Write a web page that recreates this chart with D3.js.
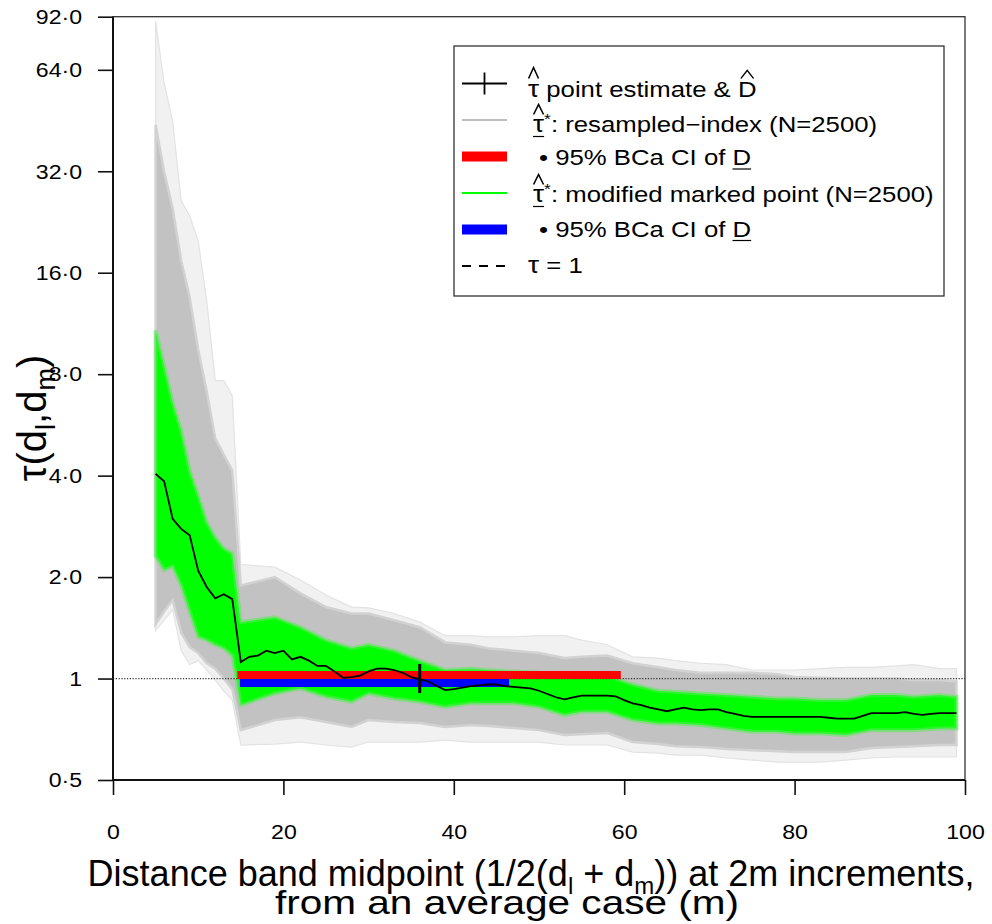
<!DOCTYPE html>
<html><head><meta charset="utf-8">
<script src="https://cdn.jsdelivr.net/npm/d3@7"></script>
<style>
html,body{margin:0;padding:0;background:#fff;}
svg{display:block;font-family:"Liberation Sans",Arial,Helvetica,sans-serif;}
</style></head><body>
<svg id="chart" width="992" height="924"></svg>
<script>
// ---------------- DATA ----------------
const xTicks = [0, 20, 40, 60, 80, 100];
const xTickLabels = ["0", "20", "40", "60", "80", "100"];
const yTicks = [0.5, 1, 2, 4, 8, 16, 32, 64, 92];
const yTickLabels = ["0·5", "1", "2·0", "4·0", "8·0", "16·0", "32·0", "64·0", "92·0"];

// point-estimate curve tau-hat (distance band midpoints, m)
const estX = [5,6,7,8,9,10,11,12,13,14,15,16,17,18,19,20,21,22,23,24,25,26,27,28,29,30,31,32,33,34,35,36,37,38,39,40,41,42,43,44,45,46,47,48,49,50,51,52,53,54,55,56,57,58,59,60,61,62,63,64,65,66,67,68,69,70,71,72,73,74,75,76,77,78,79,80,81,82,83,84,85,86,87,88,89,90,91,92,93,94,95,96,97,98,99];
const estTau = [4.05,3.85,2.98,2.78,2.66,2.09,1.87,1.73,1.78,1.72,1.12,1.16,1.17,1.21,1.19,1.21,1.14,1.16,1.13,1.09,1.09,1.05,1.005,1.01,1.02,1.05,1.07,1.07,1.06,1.04,1.01,0.996,0.98,0.95,0.924,0.93,0.94,0.95,0.955,0.96,0.96,0.95,0.945,0.94,0.935,0.92,0.90,0.88,0.867,0.88,0.89,0.89,0.89,0.89,0.885,0.863,0.844,0.834,0.82,0.81,0.80,0.81,0.82,0.81,0.806,0.81,0.81,0.795,0.785,0.775,0.77,0.77,0.77,0.77,0.77,0.77,0.77,0.77,0.77,0.765,0.76,0.76,0.76,0.775,0.79,0.79,0.79,0.79,0.795,0.785,0.78,0.785,0.79,0.79,0.79];

// envelopes of the bootstrap curves
const bandX = [5,6,7,8,9,10,11,12,13,14,15,19,22,25,28,30,33,36,39,42,44,47,50,53,55,58,61,64,66,69,72,75,78,80,83,86,89,92,94,97,99];
const greyFaintHi = [89.3,58.5,45.1,26.2,23.6,19.9,13.2,7.66,7.66,6.91,2.18,2.14,1.96,1.77,1.63,1.62,1.56,1.47,1.34,1.34,1.33,1.33,1.34,1.34,1.30,1.26,1.16,1.15,1.13,1.11,1.10,1.06,1.06,1.06,1.07,1.08,1.08,1.09,1.10,1.07,1.07];
const greyFaintLo = [1.39,1.49,1.60,1.21,1.10,1.13,1.06,0.99,0.92,0.863,0.635,0.639,0.648,0.635,0.626,0.648,0.648,0.648,0.657,0.648,0.648,0.648,0.648,0.635,0.635,0.635,0.605,0.601,0.593,0.593,0.581,0.573,0.565,0.565,0.565,0.573,0.581,0.585,0.585,0.585,0.585];
const greyHi = [43.9,31.9,24.8,17.4,13.5,9.46,7.11,5.16,4.62,4.14,1.89,2.00,1.79,1.63,1.56,1.56,1.49,1.42,1.28,1.26,1.23,1.21,1.19,1.15,1.16,1.17,1.11,1.08,1.06,1.04,1.04,1.04,1.03,1.01,1.005,1.00,1.00,1.00,0.99,0.99,0.98];
const greyLo = [1.45,1.58,1.71,1.37,1.24,1.19,1.11,1.07,1.00,0.93,0.703,0.753,0.768,0.743,0.718,0.753,0.743,0.738,0.718,0.728,0.723,0.713,0.703,0.680,0.684,0.689,0.648,0.639,0.630,0.626,0.618,0.613,0.609,0.605,0.605,0.605,0.622,0.626,0.630,0.635,0.635];
const greenHi = [10.8,8.49,6.59,5.45,4.14,3.49,2.91,2.62,2.43,2.35,1.47,1.52,1.42,1.30,1.23,1.26,1.21,1.13,1.06,1.07,1.06,1.05,1.04,1.01,1.02,1.02,0.96,0.92,0.913,0.903,0.893,0.883,0.873,0.873,0.863,0.863,0.893,0.893,0.883,0.893,0.883];
const greenLo = [2.31,2.10,2.15,1.89,1.58,1.33,1.30,1.26,1.23,1.17,0.834,0.903,0.935,0.883,0.853,0.903,0.873,0.853,0.824,0.844,0.844,0.844,0.824,0.779,0.797,0.797,0.753,0.736,0.736,0.728,0.711,0.695,0.695,0.687,0.687,0.680,0.703,0.703,0.703,0.711,0.711];

// 95% BCa CIs of D (resampled-index, modified marked point)
const ciNames = ["resampled-index", "modified marked point"];
const ciLow = [14.6, 14.9];
const ciHigh = [59.6, 46.5];
const ciLevel = [1.025, 0.97];
const ciColors = ["#ff0000", "#0000ff"];

// point estimate D-hat
const dHat = [36.0];
const dHatTau = [1.0];

// ---------------- CHART ----------------
const svg = d3.select("#chart");
const FONT = '"Liberation Sans",Arial,Helvetica,sans-serif';
const L = 113, R = 965, T = 16.7, B = 780;
const x = d3.scaleLinear().domain([0, 100]).range([L, R]);
const y = d3.scaleLog().base(2).domain([0.5, 92]).range([B, T]);

svg.append("rect").attr("width", 992).attr("height", 924).attr("fill", "#fff");
svg.append("defs").append("clipPath").attr("id", "clip")
  .append("rect").attr("x", L).attr("y", T).attr("width", R - L).attr("height", B - T);

const plot = svg.append("g").attr("clip-path", "url(#clip)");

function bandArea(lo, hi) {
  return d3.area()
    .x((d, i) => x(bandX[i]))
    .y0((d, i) => y(lo[i]))
    .y1((d, i) => y(hi[i]));
}
plot.append("path").datum(bandX).attr("d", bandArea(greyFaintLo, greyFaintHi))
  .attr("fill", "#f1f1f1").attr("stroke", "#e3e3e3").attr("stroke-width", 1.2);
plot.append("path").datum(bandX).attr("d", bandArea(greyLo, greyHi))
  .attr("fill", "#c2c2c2").attr("stroke", "#d2d2d2").attr("stroke-width", 2.5);
plot.append("path").datum(bandX).attr("d", bandArea(greenLo, greenHi))
  .attr("fill", "#00ff00").attr("stroke", "rgba(90,235,90,0.55)").attr("stroke-width", 4);

// tau = 1 reference
plot.append("line").attr("x1", L).attr("x2", R).attr("y1", y(1)).attr("y2", y(1))
  .attr("stroke", "#333").attr("stroke-width", 1.2).attr("stroke-dasharray", "1.2,1.6");

// CI bars
ciLow.forEach((lo, i) => {
  plot.append("line").attr("x1", x(lo)).attr("x2", x(ciHigh[i]))
    .attr("y1", y(ciLevel[i])).attr("y2", y(ciLevel[i]))
    .attr("stroke", ciColors[i]).attr("stroke-width", 8);
});

// point estimate curve
plot.append("path").datum(estX)
  .attr("d", d3.line().x(d => x(d)).y((d, i) => y(estTau[i])))
  .attr("fill", "none").attr("stroke", "#000").attr("stroke-width", 1.8);

// D-hat cross
dHat.forEach((d, i) => {
  plot.append("line").attr("x1", x(d)).attr("x2", x(d))
    .attr("y1", y(dHatTau[i]) - 14.5).attr("y2", y(dHatTau[i]) + 14.5)
    .attr("stroke", "#000").attr("stroke-width", 3);
});

// frame
svg.append("rect").attr("x", L).attr("y", T).attr("width", R - L).attr("height", B - T)
  .attr("fill", "none").attr("stroke", "#333").attr("stroke-width", 1.3);
svg.append("line").attr("x1", L).attr("x2", L).attr("y1", T).attr("y2", B).attr("stroke", "#111").attr("stroke-width", 2);
svg.append("line").attr("x1", L).attr("x2", R).attr("y1", B).attr("y2", B).attr("stroke", "#111").attr("stroke-width", 2);

// axes
const TX = 1.1; // horizontal stretch of the tick label glyphs
const yAxis = svg.append("g").attr("transform", `translate(${L},0)`)
  .call(d3.axisLeft(y).tickValues(yTicks).tickFormat((d, i) => yTickLabels[i]).tickSize(15).tickPadding(16));
const xAxis = svg.append("g").attr("transform", `translate(0,${B})`)
  .call(d3.axisBottom(x).tickValues(xTicks).tickFormat((d, i) => xTickLabels[i]).tickSize(15).tickPadding(29));
[yAxis, xAxis].forEach(g => {
  g.select(".domain").remove();
  g.selectAll(".tick line").attr("stroke", "#111").attr("stroke-width", 1.6);
  g.selectAll(".tick text").attr("font-family", FONT).attr("font-size", 21).attr("fill", "#000");
});
yAxis.selectAll(".tick text").attr("x", -31 / TX).attr("transform", `scale(${TX},1)`);
xAxis.selectAll(".tick text").attr("transform", `scale(${TX},1)`);

// axis titles
const xt = svg.append("text").attr("x", 531).attr("y", 886).attr("text-anchor", "middle")
  .attr("font-family", FONT).attr("font-size", 36).attr("fill", "#000");
xt.append("tspan").text("Distance band midpoint (1/2(d");
xt.append("tspan").attr("font-size", 24).attr("dy", 8).text("l");
xt.append("tspan").attr("dy", -8).text(" + d");
xt.append("tspan").attr("font-size", 24).attr("dy", 8).text("m");
xt.append("tspan").attr("dy", -8).text(")) at 2m increments,");
svg.append("text").attr("x", 507).attr("y", 914).attr("text-anchor", "middle")
  .attr("font-family", FONT).attr("font-size", 34).attr("fill", "#000")
  .attr("textLength", 464).attr("lengthAdjust", "spacingAndGlyphs")
  .text("from an average case (m)");

const yt = svg.append("text").attr("transform", "translate(46,418) rotate(-90)")
  .attr("text-anchor", "middle").attr("font-family", FONT).attr("font-size", 40).attr("fill", "#000");
yt.append("tspan").text("τ(d");
yt.append("tspan").attr("font-size", 27).attr("dy", 9).text("l");
yt.append("tspan").attr("dy", -9).text(",d");
yt.append("tspan").attr("font-size", 27).attr("dy", 9).text("m");
yt.append("tspan").attr("dy", -9).text(")");

// ---------------- LEGEND ----------------
const leg = svg.append("g");
leg.append("rect").attr("x", 454).attr("y", 46).attr("width", 490).attr("height", 250)
  .attr("fill", "#fff").attr("stroke", "#222").attr("stroke-width", 1.2);
const rowMid = [83.5, 120, 156.5, 193, 229.5, 266];
const rowBase = [96.5, 131.5, 165, 201.5, 236.5, 273];
const sx0 = 462, sx1 = 507;
leg.append("line").attr("x1", sx0).attr("x2", sx1).attr("y1", rowMid[0]).attr("y2", rowMid[0]).attr("stroke", "#000").attr("stroke-width", 1.8);
leg.append("line").attr("x1", (sx0 + sx1) / 2).attr("x2", (sx0 + sx1) / 2).attr("y1", rowMid[0] - 11).attr("y2", rowMid[0] + 11).attr("stroke", "#000").attr("stroke-width", 1.8);
leg.append("line").attr("x1", sx0).attr("x2", sx1).attr("y1", rowMid[1]).attr("y2", rowMid[1]).attr("stroke", "#bebebe").attr("stroke-width", 2);
leg.append("line").attr("x1", sx0).attr("x2", sx1).attr("y1", rowMid[2]).attr("y2", rowMid[2]).attr("stroke", ciColors[0]).attr("stroke-width", 10);
leg.append("line").attr("x1", sx0).attr("x2", sx1).attr("y1", rowMid[3]).attr("y2", rowMid[3]).attr("stroke", "#00ff00").attr("stroke-width", 2);
leg.append("line").attr("x1", sx0).attr("x2", sx1).attr("y1", rowMid[4]).attr("y2", rowMid[4]).attr("stroke", ciColors[1]).attr("stroke-width", 10);
leg.append("line").attr("x1", sx0).attr("x2", sx1).attr("y1", rowMid[5]).attr("y2", rowMid[5]).attr("stroke", "#000").attr("stroke-width", 1.8).attr("stroke-dasharray", "9,8");

const SX = 1.17;
function legText(x0, yb, parts) {
  const g = leg.append("g").attr("transform", `translate(${x0},${yb}) scale(${SX},1)`);
  const t = g.append("text").attr("x", 0).attr("y", 0).attr("font-family", FONT).attr("font-size", 22).attr("fill", "#000");
  parts.forEach(p => {
    const ts = t.append("tspan").text(p.t);
    if (p.size) ts.attr("font-size", p.size);
    if (p.dy) ts.attr("dy", p.dy);
  });
  return { g, node: t.node() };
}
function hat(o, idx, top, bottom, shrink) {
  let a = o.node.getStartPositionOfChar(idx).x, b = o.node.getEndPositionOfChar(idx).x;
  a += shrink; b -= shrink;
  o.g.append("path").attr("d", `M${a},${bottom}L${(a + b) / 2},${top}L${b},${bottom}`)
    .attr("fill", "none").attr("stroke", "#000").attr("stroke-width", 1.3);
}
function underline(o, idx, yy) {
  const a = o.node.getStartPositionOfChar(idx).x, b = o.node.getEndPositionOfChar(idx).x;
  o.g.append("line").attr("x1", a).attr("x2", b).attr("y1", yy).attr("y2", yy)
    .attr("stroke", "#000").attr("stroke-width", 1.2);
}
let r1 = legText(528, rowBase[0], [{ t: "τ", size: 24 }, { t: " point estimate & D" }]);
hat(r1, 0, -29, -18, 0.5);
hat(r1, r1.node.getNumberOfChars() - 1, -26, -18, 2.5);
let r2 = legText(533, rowBase[1], [{ t: "τ", size: 24 }, { t: "*", size: 15, dy: -8 }, { t: ": resampled−index (N=2500)", dy: 8 }]);
hat(r2, 0, -27, -17, 0.5); underline(r2, 0, 5);
let r3 = legText(539, rowBase[2], [{ t: "• 95% BCa CI of D" }]);
underline(r3, r3.node.getNumberOfChars() - 1, 4);
let r4 = legText(533, rowBase[3], [{ t: "τ", size: 24 }, { t: "*", size: 15, dy: -8 }, { t: ": modified marked point (N=2500)", dy: 8 }]);
hat(r4, 0, -27, -17, 0.5); underline(r4, 0, 5);
let r5 = legText(539, rowBase[4], [{ t: "• 95% BCa CI of D" }]);
underline(r5, r5.node.getNumberOfChars() - 1, 4);
legText(528, rowBase[5], [{ t: "τ", size: 24 }, { t: " = 1" }]);
</script>
</body></html>
